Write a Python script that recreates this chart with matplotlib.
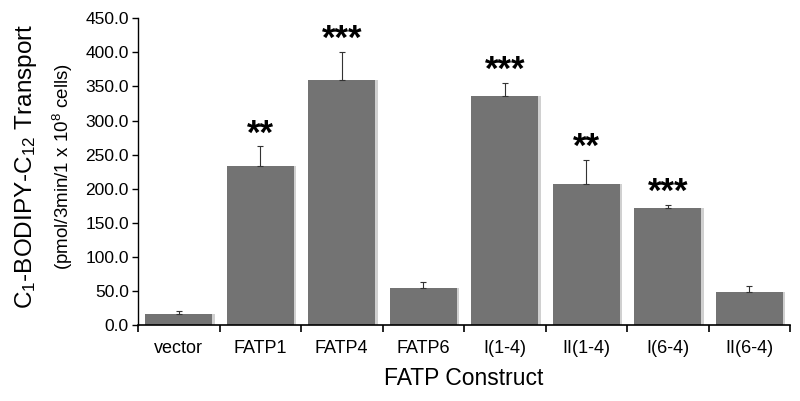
import matplotlib
matplotlib.use("Agg")
import matplotlib.pyplot as plt
import numpy as np

categories = ["vector", "FATP1", "FATP4", "FATP6", "I(1-4)", "II(1-4)", "I(6-4)", "II(6-4)"]
values = [16.0, 234.0, 359.0, 55.0, 336.5, 206.5, 171.0, 48.0]
errors = [5.0, 28.0, 42.0, 8.0, 19.0, 35.5, 5.5, 9.5]
stars = ["", "**", "***", "", "***", "**", "***", ""]
yticks = [0, 50, 100, 150, 200, 250, 300, 350, 400, 450]

plt.rcParams['font.family'] = ['Liberation Sans', 'DejaVu Sans']
plt.rcParams['mathtext.fontset'] = 'custom'
plt.rcParams['mathtext.rm'] = 'Liberation Sans'
plt.rcParams['mathtext.it'] = 'Liberation Sans:italic'

fig = plt.figure(figsize=(8.0, 4.01), dpi=100)
ax = fig.add_axes([0.1725, 0.1895, 0.815, 0.7648])

x = np.arange(len(categories))
bar_color = '#737373'
# subtle shadow on the right of bars
ax.bar(x + 0.03, values, width=0.82, color='#d0d0d0', zorder=1)
ax.bar(x, values, width=0.82, color=bar_color, zorder=2)
ax.errorbar(x, values, yerr=[np.zeros(len(values)), errors], fmt='none',
            ecolor='#333333', elinewidth=0.8, capsize=2.5, capthick=0.8, zorder=3)

for xi, v, e, s in zip(x, values, errors, stars):
    if s:
        ax.annotate(s, xy=(xi, v + e), xytext=(0, -3), textcoords='offset points',
                    ha='center', va='bottom', fontsize=25, fontweight='bold', color='black')

ax.set_xlim(-0.5, len(categories) - 0.5)
ax.set_ylim(0, 450)
ax.set_yticks(yticks)
ax.set_yticklabels([f"{t:.1f}" for t in yticks], fontsize=12.5)
ax.set_xticks(x)
ax.set_xticklabels(categories, fontsize=13)
ax.tick_params(axis='x', which='major', length=0, pad=11)
ax.set_xticks(np.arange(len(categories) + 1) - 0.5, minor=True)
ax.tick_params(axis='x', which='minor', length=5, width=1.2, direction='out')
ax.tick_params(axis='y', length=4.5, width=1.0, direction='out', pad=2)

for sp in ['top', 'right']:
    ax.spines[sp].set_visible(False)
ax.spines['left'].set_linewidth(1.0)
ax.spines['bottom'].set_linewidth(1.2)

ax.set_xlabel("FATP Construct", fontsize=16.5, labelpad=7)
fig.text(0.032, 0.585, r"C$_{\mathregular{1}}$-BODIPY-C$_{\mathregular{12}}$ Transport",
         rotation=90, ha='center', va='center', fontsize=17.5)
fig.text(0.079, 0.585, r"(pmol/3min/1 x 10$^{\mathregular{8}}$ cells)",
         rotation=90, ha='center', va='center', fontsize=13.5)

fig.savefig("out.png", dpi=100)
